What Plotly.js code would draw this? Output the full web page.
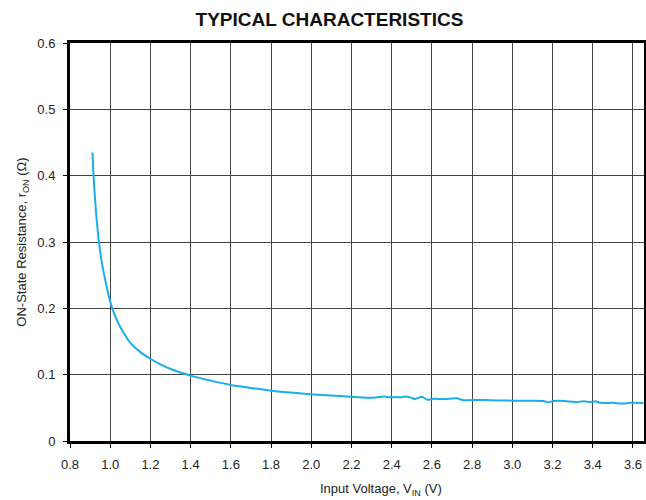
<!DOCTYPE html>
<html>
<head>
<meta charset="utf-8">
<script src="https://cdn.plot.ly/plotly-3.0.1.min.js"></script>
<style>html,body{margin:0;padding:0;background:#fff;}#chart{width:646px;height:500px;}</style>
</head>
<body>
<div id="chart"></div>
<script>
// Input voltage V_IN (V)
const vin = [0.912,0.916,0.92,0.93,0.944,0.96,0.98,1.0,1.025,1.05,1.075,1.1,1.15,1.2,1.25,1.3,1.4,1.5,1.6,1.7,1.8,1.9,2.0,2.1,2.193,2.276,2.32,2.359,2.392,2.42,2.442,2.47,2.492,2.516,2.55,2.578,2.607,2.65,2.69,2.724,2.757,2.8,2.856,2.93,3.005,3.08,3.155,3.18,3.204,3.26,3.32,3.354,3.387,3.412,3.437,3.5,3.553,3.586,3.652];
// ON-state resistance r_ON (Ohm)
const ron = [0.435,0.405,0.385,0.343,0.30,0.266,0.236,0.21,0.188,0.172,0.159,0.148,0.134,0.124,0.1155,0.1085,0.0985,0.091,0.0845,0.080,0.0759,0.073,0.0704,0.0685,0.0668,0.0653,0.0655,0.0672,0.0659,0.0662,0.0659,0.0672,0.0658,0.0632,0.0668,0.0622,0.0638,0.0632,0.0638,0.0645,0.0614,0.0618,0.0618,0.0612,0.0608,0.0606,0.0603,0.0585,0.0603,0.0603,0.0586,0.0601,0.0586,0.0601,0.0575,0.0575,0.0565,0.0575,0.0573];

const xTicks = [0.8,1.0,1.2,1.4,1.6,1.8,2.0,2.2,2.4,2.6,2.8,3.0,3.2,3.4,3.6];
const xTickText = ['0.8','1.0','1.2','1.4','1.6','1.8','2.0','2.2','2.4','2.6','2.8','3.0','3.2','3.4','3.6'];
const yTicks = [0,0.1,0.2,0.3,0.4,0.5,0.6];
const yTickText = ['0','0.1','0.2','0.3','0.4','0.5','0.6'];

const font = 'Liberation Sans, Arial, Helvetica, sans-serif';

const trace = {
  x: vin, y: ron, type: 'scatter', mode: 'lines',
  line: {color: '#1aaee8', width: 2, shape: 'spline', smoothing: 0.6},
  hoverinfo: 'skip'
};

const layout = {
  width: 646, height: 500,
  margin: {l: 70, r: 2, t: 43, b: 59},
  paper_bgcolor: '#fff', plot_bgcolor: '#fff',
  showlegend: false,
  font: {family: font, size: 13, color: '#222'},
  title: {
    text: '<b>TYPICAL CHARACTERISTICS</b>',
    font: {family: font, size: 19, color: '#111'},
    xref: 'container', x: 0.51, xanchor: 'center',
    yref: 'container', y: 0.962, yanchor: 'middle'
  },
  xaxis: {
    range: [0.8, 3.655], tickvals: xTicks, ticktext: xTickText,
    showgrid: true, gridcolor: '#444', gridwidth: 1,
    showline: true, linecolor: '#000', linewidth: 3, mirror: true,
    ticks: 'outside', ticklen: 4, tickcolor: '#000', tickwidth: 1,
    ticklabelstandoff: 5,
    tickfont: {family: font, size: 13, color: '#222'},
    zeroline: false, fixedrange: true
  },
  yaxis: {
    range: [0, 0.6], tickvals: yTicks, ticktext: yTickText,
    showgrid: true, gridcolor: '#444', gridwidth: 1,
    showline: true, linecolor: '#000', linewidth: 3, mirror: true,
    ticks: 'outside', ticklen: 4, tickcolor: '#000', tickwidth: 1,
    ticklabelstandoff: 5,
    tickfont: {family: font, size: 13, color: '#222'},
    zeroline: false, fixedrange: true,
    title: {text: 'ON-State Resistance, r<sub>ON</sub> (Ω)', font: {family: font, size: 13, color: '#222'}, standoff: 8}
  },
  annotations: [{
    text: 'Input Voltage, V<sub>IN</sub> (V)',
    xref: 'paper', yref: 'paper', x: 0.542, y: -0.123,
    xanchor: 'center', yanchor: 'middle', showarrow: false,
    font: {family: font, size: 13, color: '#222'}
  }]
};

Plotly.newPlot('chart', [trace], layout, {displayModeBar: false, staticPlot: true});
</script>
</body>
</html>
